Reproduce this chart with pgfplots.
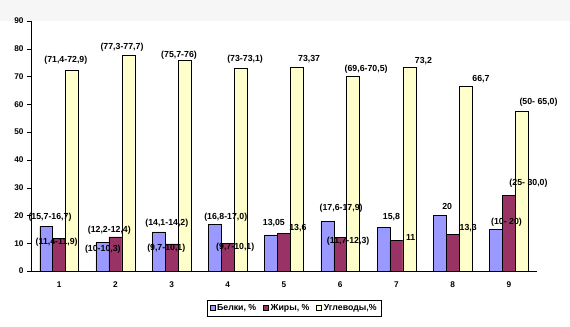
\documentclass[border=0pt]{standalone}
\usepackage{pgfplots}
\pgfplotsset{compat=1.18}
\usepackage{fontspec}
\setmainfont{Liberation Sans}
\definecolor{cb}{HTML}{9999FF}
\definecolor{cr}{HTML}{993366}
\definecolor{cy}{HTML}{FFFFCC}
\begin{document}
\begin{tikzpicture}
\begin{axis}[
  set layers,
  scale only axis, width=506bp, height=250bp,
  xmin=0.5, xmax=9.5, ymin=0, ymax=90,
  axis lines*=left, axis line style={black},
  ybar, bar width=0.23,
  xtick={1,...,9}, minor xtick={0.5,1.5,...,9.5},
  ytick={0,10,...,90},
  tick align=outside, major tick length=4bp, minor tick length=4bp,
  xtick style={draw=none}, minor tick style={black},
  ytick style={black},
  /pgf/number format/assume math mode=true,
  tick label style={font=\bfseries\fontsize{8.3}{9}\selectfont},
  xticklabel style={yshift=-3bp},
  clip=false,
  legend style={at={(0.52,0)}, anchor=north, yshift=-29bp, draw=black,
    font=\bfseries\fontsize{8.8}{9}\selectfont, legend columns=3,
    inner xsep=2.5bp, inner ysep=2bp,
    /tikz/every even column/.append style={column sep=5bp}},
  legend image code/.code={\draw[#1,draw=black] (0bp,-2.5bp) rectangle (5bp,2.5bp);},
]
\addplot[fill=cb, draw=black, bar shift=-0.23] coordinates {(1,16.0) (2,10.2) (3,14.1) (4,16.9) (5,13.05) (6,17.8) (7,15.8) (8,20) (9,15)};
\addplot[fill=cr, draw=black, bar shift=0] coordinates {(1,11.7) (2,12.3) (3,9.8) (4,10.0) (5,13.6) (6,12.0) (7,11) (8,13.3) (9,27.3)};
\addplot[fill=cy, draw=black, bar shift=0.23] coordinates {(1,72.2) (2,77.6) (3,75.8) (4,73.1) (5,73.37) (6,70.1) (7,73.2) (8,66.7) (9,57.4)};
\legend{{Белки, \%}, {Жиры, \%}, {Углеводы,\%}}
\begin{pgfonlayer}{axis background}
\path[fill=gray!7] (rel axis cs:0,1) ++(-31bp,0bp) rectangle ++(570bp,21bp);
\end{pgfonlayer}
\tikzset{lbl/.style={font=\bfseries\fontsize{8.8}{9}\selectfont, inner sep=0pt}}
\node[lbl] at (axis cs:0.838,19.2) {(15,7-16,7)};
\node[lbl] at (axis cs:0.957,10.4) {(11,4-11,9)};
\node[lbl] at (axis cs:1.119,75.7) {(71,4-72,9)};
\node[lbl] at (axis cs:1.893,14.5) {(12,2-12,4)};
\node[lbl] at (axis cs:1.778,7.9) {(10-10,3)};
\node[lbl] at (axis cs:2.119,80.5) {(77,3-77,7)};
\node[lbl] at (axis cs:2.916,17.2) {(14,1-14,2)};
\node[lbl] at (axis cs:2.906,8.05) {(9,7-10,1)};
\node[lbl] at (axis cs:3.133,77.6) {(75,7-76)};
\node[lbl] at (axis cs:3.964,19.2) {(16,8-17,0)};
\node[lbl] at (axis cs:4.133,8.4) {(9,7-10,1)};
\node[lbl] at (axis cs:4.308,76.1) {(73-73,1)};
\node[lbl] at (axis cs:4.820,17.3) {13,05};
\node[lbl] at (axis cs:5.247,15.4) {13,6};
\node[lbl] at (axis cs:5.447,76.2) {73,37};
\node[lbl] at (axis cs:6.016,22.5) {(17,6-17,9)};
\node[lbl] at (axis cs:6.141,10.7) {(11,7-12,3)};
\node[lbl] at (axis cs:6.461,72.8) {(69,6-70,5)};
\node[lbl] at (axis cs:6.911,19.5) {15,8};
\node[lbl] at (axis cs:7.253,12.2) {11};
\node[lbl] at (axis cs:7.480,75.6) {73,2};
\node[lbl] at (axis cs:7.902,23.2) {20};
\node[lbl] at (axis cs:8.276,15.6) {13,3};
\node[lbl] at (axis cs:8.503,69.0) {66,7};
\node[lbl] at (axis cs:8.957,17.4) {(10- 20)};
\node[lbl] at (axis cs:9.349,31.7) {(25- 30,0)};
\node[lbl] at (axis cs:9.527,60.6) {(50- 65,0)};
\path (rel axis cs:0,0) ++(-31bp,-56bp) rectangle ++(570bp,327bp);
\end{axis}
\end{tikzpicture}
\end{document}
